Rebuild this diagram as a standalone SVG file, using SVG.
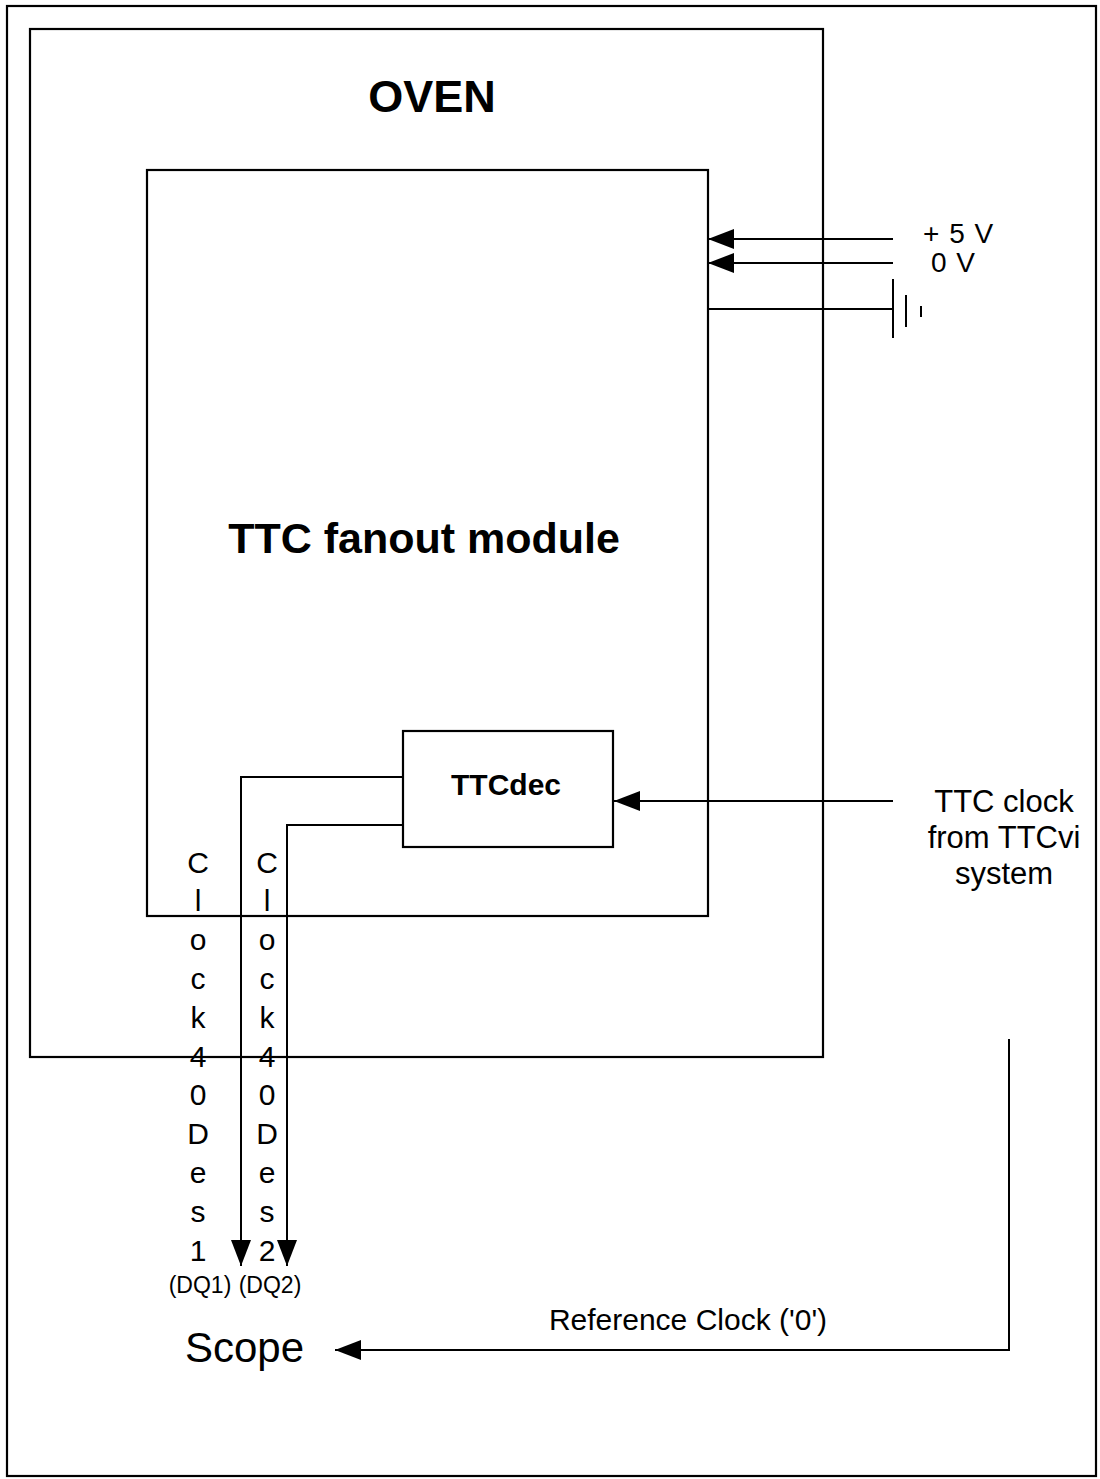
<svg xmlns="http://www.w3.org/2000/svg" width="1100" height="1479" viewBox="0 0 1100 1479">
<defs>
<style>
.box{fill:none;stroke:#000;stroke-width:2.2}
.ln{fill:none;stroke:#000;stroke-width:2}
text{font-family:"Liberation Sans",Arial,sans-serif;fill:#000}
.b{font-weight:bold}
.v{font-size:30px;text-anchor:middle}
</style>
<marker id="ah" viewBox="0 0 26 20" refX="26" refY="10" markerWidth="26" markerHeight="20" markerUnits="userSpaceOnUse" orient="auto">
<path d="M0,0 L26,10 L0,20 Z" fill="#000"/>
</marker>
</defs>
<rect x="0" y="0" width="1100" height="1479" fill="#fff"/>
<rect class="box" x="7" y="6" width="1089" height="1470"/>
<g id="oven">
<rect class="box" x="30" y="29" width="793" height="1028"/>
<text class="b" x="432" y="112" font-size="45" text-anchor="middle">OVEN</text>
</g>
<g id="fanout">
<rect class="box" x="147" y="170" width="561" height="746"/>
<text class="b" x="424" y="553" font-size="43" text-anchor="middle">TTC fanout module</text>
</g>
<g id="ttcdec">
<rect class="box" x="403" y="731" width="210" height="116"/>
<text class="b" x="506" y="795" font-size="30" text-anchor="middle">TTCdec</text>
</g>
<g id="power">
<text x="923" y="243" font-size="28" word-spacing="2">+ 5 V</text>
<text x="931" y="272" font-size="28" word-spacing="2">0 V</text>
</g>
<g id="ground">
<line class="ln" x1="893" y1="279" x2="893" y2="338"/>
<line class="ln" x1="906" y1="295" x2="906" y2="327"/>
<line class="ln" x1="921" y1="306" x2="921" y2="317"/>
</g>
<g id="ttcclock">
<text x="1004" y="812" font-size="31" text-anchor="middle">TTC clock</text>
<text x="1004" y="848" font-size="31" text-anchor="middle">from TTCvi</text>
<text x="1004" y="884" font-size="31" text-anchor="middle">system</text>
</g>
<g id="clk1-label">
<text class="v" x="198" y="873">C</text>
<text class="v" x="198" y="911">l</text>
<text class="v" x="198" y="950">o</text>
<text class="v" x="198" y="989">c</text>
<text class="v" x="198" y="1028">k</text>
<text class="v" x="198" y="1067">4</text>
<text class="v" x="198" y="1105">0</text>
<text class="v" x="198" y="1144">D</text>
<text class="v" x="198" y="1183">e</text>
<text class="v" x="198" y="1222">s</text>
<text class="v" x="198" y="1261">1</text>
<text x="200" y="1293" font-size="23" text-anchor="middle">(DQ1)</text>
</g>
<g id="clk2-label">
<text class="v" x="267" y="873">C</text>
<text class="v" x="267" y="911">l</text>
<text class="v" x="267" y="950">o</text>
<text class="v" x="267" y="989">c</text>
<text class="v" x="267" y="1028">k</text>
<text class="v" x="267" y="1067">4</text>
<text class="v" x="267" y="1105">0</text>
<text class="v" x="267" y="1144">D</text>
<text class="v" x="267" y="1183">e</text>
<text class="v" x="267" y="1222">s</text>
<text class="v" x="267" y="1261">2</text>
<text x="270" y="1293" font-size="23" text-anchor="middle">(DQ2)</text>
</g>
<g id="scope">
<text x="185" y="1362" font-size="42">Scope</text>
</g>
<g id="refclock-label">
<text x="688" y="1330" font-size="30" text-anchor="middle">Reference Clock ('0')</text>
</g>
<g id="connectors">
<line class="ln" x1="893" y1="239" x2="708" y2="239" marker-end="url(#ah)"/>
<line class="ln" x1="893" y1="263" x2="708" y2="263" marker-end="url(#ah)"/>
<line class="ln" x1="708" y1="309" x2="893" y2="309"/>
<line class="ln" x1="893" y1="801" x2="614" y2="801" marker-end="url(#ah)"/>
<polyline class="ln" points="403,777 241,777 241,1266" marker-end="url(#ah)"/>
<polyline class="ln" points="403,825 287,825 287,1266" marker-end="url(#ah)"/>
<polyline class="ln" points="1009,1039 1009,1350 335,1350" marker-end="url(#ah)"/>
</g>
</svg>
